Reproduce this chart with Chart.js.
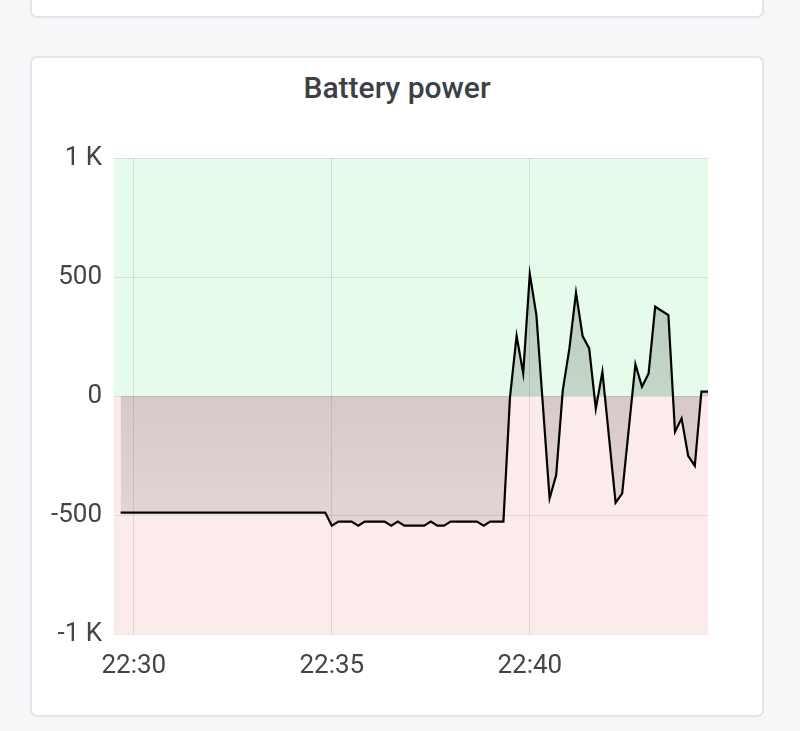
<!DOCTYPE html>
<html>
<head>
<meta charset="utf-8">
<script src="https://cdn.jsdelivr.net/npm/chart.js@4/dist/chart.umd.min.js"></script>
<style>
  body { margin: 0; width: 800px; height: 731px; overflow: hidden; background: #f6f7f9; font-family: Roboto, sans-serif; }
  .card { position: absolute; left: 30px; width: 734px; box-sizing: border-box; background: #fff; border: 2px solid #e2e4e7; border-radius: 7px; }
  #prev { top: -20px; height: 38px; }
  #main { top: 56px; height: 661px; }
  #title { position: absolute; left: 30px; width: 734px; top: 70px; line-height: 36px; text-align: center; font-size: 30px; font-weight: 500; color: #3c4047; }
  #wrap { position: absolute; left: 30px; top: 130px; width: 734px; height: 587px; }
</style>
</head>
<body>
<div class="card" id="prev"></div>
<div class="card" id="main"></div>
<div id="title">Battery power</div>
<div id="wrap"><canvas id="batteryChart"></canvas></div>
<script>
// samples (HH:MM:SS) and battery power in W
const times = [
  "22:29:40", "22:34:50", "22:35:00", "22:35:10", "22:35:20", "22:35:30",
  "22:35:40", "22:35:50", "22:36:00", "22:36:10", "22:36:20", "22:36:30",
  "22:36:40", "22:36:50", "22:37:00", "22:37:10", "22:37:20", "22:37:30",
  "22:37:40", "22:37:50", "22:38:00", "22:38:10", "22:38:20", "22:38:30",
  "22:38:40", "22:38:50", "22:39:00", "22:39:10", "22:39:20", "22:39:30",
  "22:39:40", "22:39:50", "22:40:00", "22:40:10", "22:40:20", "22:40:30",
  "22:40:40", "22:40:50", "22:41:00", "22:41:10", "22:41:20", "22:41:30",
  "22:41:40", "22:41:50", "22:42:10", "22:42:20", "22:42:40", "22:42:50",
  "22:43:00", "22:43:10", "22:43:30", "22:43:40", "22:43:50", "22:44:00",
  "22:44:10", "22:44:20", "22:44:30",
];
const power = [
  -490, -490, -545, -528, -528, -528,
  -545, -528, -528, -528, -528, -545,
  -528, -545, -545, -545, -545, -528,
  -545, -545, -528, -528, -528, -528,
  -528, -545, -528, -528, -528, -5,
  253, 95, 513, 340, -45, -430,
  -332, 25, 200, 434, 252, 200,
  -54, 102, -448, -409, 134, 39,
  95, 375, 340, -150, -94, -252,
  -293, 18, 18,
];
const xTicks = ["22:30", "22:35", "22:40"];
const yTicks = [-1000, -500, 0, 500, 1000];
const xRange = ["22:29:30", "22:44:30"];

function toSec(s) {
  const p = s.split(":").map(Number);
  return p[0] * 3600 + p[1] * 60 + (p[2] || 0);
}
function fmt(sec) {
  const h = Math.floor(sec / 3600);
  const m = Math.floor((sec % 3600) / 60);
  return h + ":" + String(m).padStart(2, "0");
}

// green above zero, red below zero
const zones = {
  id: "zones",
  beforeDraw(chart) {
    const { ctx, chartArea: a, scales } = chart;
    const y0 = scales.y.getPixelForValue(0);
    ctx.save();
    ctx.fillStyle = "#e6fbea";
    ctx.fillRect(a.left, a.top, a.right - a.left, y0 - a.top);
    ctx.fillStyle = "#fcebeb";
    ctx.fillRect(a.left, y0, a.right - a.left, a.bottom - y0);
    ctx.restore();
  },
};

Chart.defaults.font.family = "Roboto";

const ctx = document.getElementById("batteryChart").getContext("2d");
const chart = new Chart(ctx, {
  type: "line",
  data: {
    datasets: [
      {
        data: times.map((t, i) => ({ x: toSec(t), y: power[i] })),
        borderColor: "#000",
        borderWidth: 2.2,
        pointRadius: 0,
        tension: 0,
        fill: "origin",
        backgroundColor: (c) => {
          const a = c.chart.chartArea;
          if (!a) return "rgba(0,0,0,0.14)";
          const g = c.chart.ctx.createLinearGradient(0, a.top, 0, a.bottom);
          g.addColorStop(0, "rgba(0,0,0,0.24)");
          g.addColorStop(1, "rgba(0,0,0,0.05)");
          return g;
        },
      },
    ],
  },
  options: {
    responsive: true,
    maintainAspectRatio: false,
    animation: false,
    layout: { padding: { top: 28, right: 56, left: 0, bottom: 0 } },
    plugins: { legend: { display: false }, tooltip: { enabled: false } },
    scales: {
      x: {
        type: "linear",
        min: toSec(xRange[0]),
        max: toSec(xRange[1]),
        afterBuildTicks: (axis) => {
          axis.ticks = xTicks.map((t) => ({ value: toSec(t) }));
        },
        afterFit: (axis) => { axis.height = 83; },
        grid: { color: "rgba(0,0,0,0.1)", drawTicks: false },
        border: { display: false },
        ticks: {
          padding: 17,
          color: "#444",
          font: { size: 26 },
          maxRotation: 0,
          callback: (v) => fmt(v),
        },
      },
      y: {
        min: yTicks[0],
        max: yTicks[yTicks.length - 1],
        afterBuildTicks: (axis) => {
          axis.ticks = yTicks.map((v) => ({ value: v }));
        },
        afterFit: (axis) => { axis.width = 84; },
        grid: { color: "rgba(0,0,0,0.09)", drawTicks: false },
        border: { display: false },
        ticks: {
          padding: 12,
          color: "#444",
          font: { size: 26 },
          callback: (v) => (Math.abs(v) >= 1000 ? v / 1000 + " K" : v),
        },
      },
    },
  },
  plugins: [zones],
});
</script>
</body>
</html>
